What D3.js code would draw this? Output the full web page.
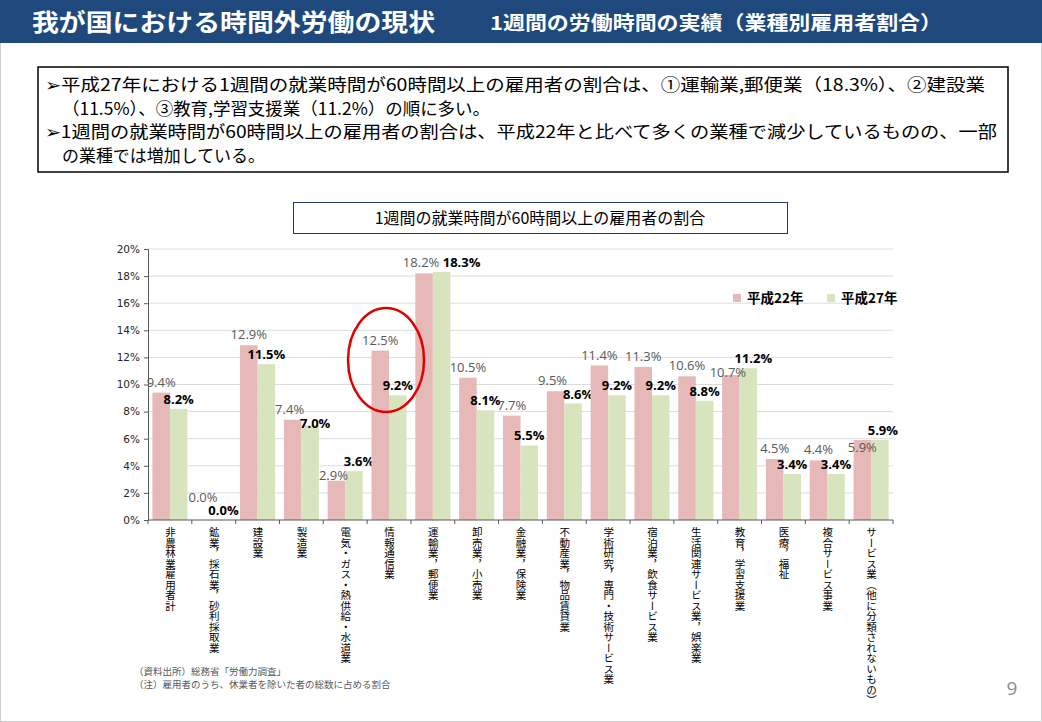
<!DOCTYPE html>
<html>
<head>
<meta charset="utf-8">
<script src="https://cdn.jsdelivr.net/npm/d3@7"></script>
<style>
  body { margin: 0; background: #fff; }
  #chart { position: relative; width: 1042px; height: 722px; }
  svg { display: block; position: absolute; left: 0; top: 0; }
  .jp { font-family: "Noto Sans CJK JP", sans-serif; }
  .catlabel {
    position: absolute;
    writing-mode: vertical-rl;
    font-family: "Noto Sans CJK JP", sans-serif;
    font-size: 10.5px;
    line-height: 12px;
    width: 12px;
    color: #000;
    white-space: nowrap;
  }
</style>
</head>
<body>
<div id="chart"></div>
<script>

// Industries (x axis)
var categories = [
    "非農林業雇用者計",
    "鉱業，採石業，砂利採取業",
    "建設業",
    "製造業",
    "電気・ガス・熱供給・水道業",
    "情報通信業",
    "運輸業，郵便業",
    "卸売業，小売業",
    "金融業，保険業",
    "不動産業，物品賃貸業",
    "学術研究，専門・技術サービス業",
    "宿泊業，飲食サービス業",
    "生活関連サービス業，娯楽業",
    "教育，学習支援業",
    "医療，福祉",
    "複合サービス事業",
    "サービス業（他に分類されないもの）"
];

// Share of employees working 60h+ per week (%)
var seriesNames = ["平成22年", "平成27年"];
var valuesH22 = [9.4, 0.0, 12.9, 7.4, 2.9, 12.5, 18.2, 10.5, 7.7, 9.5, 11.4, 11.3, 10.6, 10.7, 4.5, 4.4, 5.9];
var valuesH27 = [8.2, 0.0, 11.5, 7.0, 3.6, 9.2, 18.3, 8.1, 5.5, 8.6, 9.2, 9.2, 8.8, 11.2, 3.4, 3.4, 5.9];
var yTicks = [0, 2, 4, 6, 8, 10, 12, 14, 16, 18, 20];

var bulletLines = [
    "➢平成27年における1週間の就業時間が60時間以上の雇用者の割合は、①運輸業,郵便業（18.3%）、②建設業",
    "（11.5%）、③教育,学習支援業（11.2%）の順に多い。",
    "➢1週間の就業時間が60時間以上の雇用者の割合は、平成22年と比べて多くの業種で減少しているものの、一部",
    "の業種では増加している。"
];
var notes = [
    "（資料出所）総務省「労働力調査」",
    "（注）雇用者のうち、休業者を除いた者の総数に占める割合"
];

var colors = ["#e6b8b7", "#d7e4bd"];
var width = 1042, height = 722;

var svg = d3.select("#chart")
    .append("svg")
        .attr("width", width)
        .attr("height", height);

// Slide border
svg.append("rect")
    .attr("x", 0.5).attr("y", 0.5)
    .attr("width", width - 1).attr("height", height - 1)
    .attr("fill", "#fff")
    .attr("stroke", "#d0d0d0");

// Header band
svg.append("rect")
    .attr("x", 0).attr("y", 0)
    .attr("width", width).attr("height", 43)
    .attr("fill", "#1f497d");

svg.append("text")
    .attr("class", "jp")
    .attr("x", 32).attr("y", 31)
    .attr("fill", "#fff")
    .attr("font-size", 24)
    .attr("font-weight", "bold")
    .attr("textLength", 403)
    .attr("lengthAdjust", "spacingAndGlyphs")
    .text("我が国における時間外労働の現状");

svg.append("text")
    .attr("class", "jp")
    .attr("x", 490).attr("y", 30)
    .attr("fill", "#fff")
    .attr("font-size", 19)
    .attr("font-weight", "bold")
    .attr("textLength", 452)
    .attr("lengthAdjust", "spacingAndGlyphs")
    .text("1週間の労働時間の実績（業種別雇用者割合）");

// Summary box
svg.append("rect")
    .attr("x", 38).attr("y", 67)
    .attr("width", 970).attr("height", 105)
    .attr("fill", "#fff")
    .attr("stroke", "#000")
    .attr("stroke-width", 1.5);

var lineX = [45, 62, 45, 62];
var lineLen = [940, 428, 952, 203];
svg.selectAll(".bullet")
    .data(bulletLines)
    .enter()
    .append("text")
    .attr("class", "jp bullet")
    .attr("x", function(d, i) { return lineX[i]; })
    .attr("y", function(d, i) { return 91 + i * 23.5; })
    .attr("font-size", 17)
    .attr("fill", "#000")
    .attr("textLength", function(d, i) { return lineLen[i]; })
    .attr("lengthAdjust", "spacingAndGlyphs")
    .text(function(d) { return d; });

// Chart title box
svg.append("rect")
    .attr("x", 293.5).attr("y", 202.5)
    .attr("width", 494).attr("height", 31)
    .attr("fill", "#fff")
    .attr("stroke", "#1f3864")
    .attr("stroke-width", 1);

svg.append("text")
    .attr("class", "jp")
    .attr("x", 540).attr("y", 224)
    .attr("text-anchor", "middle")
    .attr("font-size", 16)
    .attr("fill", "#000")
    .text("1週間の就業時間が60時間以上の雇用者の割合");

// Scales
var plot = { left: 148, right: 893, top: 249, bottom: 520 };

var x0 = d3.scaleBand()
    .domain(categories)
    .range([plot.left, plot.right])
    .padding(0);

var x1 = d3.scaleBand()
    .domain(seriesNames)
    .range([4.4, x0.bandwidth() - 4.4])
    .padding(0);

var y = d3.scaleLinear()
    .domain([0, 20])
    .range([plot.bottom, plot.top]);

// Gridlines
svg.append("g")
    .selectAll("line")
    .data(yTicks.filter(function(d) { return d > 0; }))
    .enter()
    .append("line")
    .attr("x1", plot.left).attr("x2", plot.right)
    .attr("y1", function(d) { return y(d); })
    .attr("y2", function(d) { return y(d); })
    .attr("stroke", "#dcdcdc")
    .attr("stroke-width", 1);

// Y axis
var yAxis = d3.axisLeft(y)
    .tickValues(yTicks)
    .tickSize(4)
    .tickFormat(function(d) { return d + "%"; });

var gy = svg.append("g")
    .attr("transform", "translate(" + plot.left + ",0)")
    .call(yAxis);
gy.select(".domain").attr("stroke", "#595959");
gy.selectAll(".tick line").attr("stroke", "#595959");
gy.selectAll(".tick text")
    .attr("font-family", "DejaVu Sans, sans-serif")
    .attr("font-size", 10.5)
    .attr("fill", "#262626")
    .attr("x", -8);

// Bars
var rows = categories.map(function(c, i) {
    return { cat: c, vals: [valuesH22[i], valuesH27[i]] };
});

var groups = svg.append("g")
    .selectAll("g")
    .data(rows)
    .enter()
    .append("g")
    .attr("transform", function(d) { return "translate(" + x0(d.cat) + ",0)"; });

groups.selectAll("rect")
    .data(function(d) { return d.vals.map(function(v, j) { return { s: seriesNames[j], v: v, j: j }; }); })
    .enter()
    .append("rect")
    .attr("x", function(d) { return x1(d.s); })
    .attr("width", x1.bandwidth())
    .attr("y", function(d) { return y(d.v); })
    .attr("height", function(d) { return y(0) - y(d.v); })
    .attr("fill", function(d) { return colors[d.j]; });

// Value labels: start above each bar, then nudge the pair apart when they collide
function labelSpots(d) {
    var v22 = d.vals[0], v27 = d.vals[1];
    var a = { x: x1(seriesNames[0]) + x1.bandwidth() / 2, y: y(v22) - 6 };
    var b = { x: x1(seriesNames[1]) + x1.bandwidth() / 2, y: y(v27) - 5 };
    var gap = Math.abs(a.y - b.y);
    if (gap < 4) {
        if (v27 > 15) { a.x -= 3; b.x += 20; }
        else if (v27 < 1) { a.y -= 12; a.x -= 2; b.x += 1; }
        else { a.y += 18; b.x += 3; }
    } else if (gap < 14) {
        a.x -= 3; b.x += 5;
        if (a.y > b.y) a.y = b.y + 14;
        else b.y = a.y + 14;
    }
    return [
        { v: v22, j: 0, x: a.x, y: a.y },
        { v: v27, j: 1, x: b.x, y: b.y }
    ];
}

groups.selectAll("text.val")
    .data(labelSpots)
    .enter()
    .append("text")
    .attr("class", "val")
    .attr("x", function(d) { return d.x; })
    .attr("y", function(d) { return d.y; })
    .attr("text-anchor", "middle")
    .attr("font-family", "Open Sans, sans-serif")
    .attr("font-size", 13)
    .attr("font-weight", function(d) { return d.j === 0 ? "normal" : "bold"; })
    .attr("fill", function(d) { return d.j === 0 ? "#595959" : "#000"; })
    .text(function(d) { return d.v.toFixed(1) + "%"; });

// X axis line and ticks between groups
svg.append("line")
    .attr("x1", plot.left).attr("x2", plot.right)
    .attr("y1", plot.bottom).attr("y2", plot.bottom)
    .attr("stroke", "#595959");

svg.append("g")
    .selectAll("line")
    .data(d3.range(categories.length + 1))
    .enter()
    .append("line")
    .attr("x1", function(i) { return plot.left + i * x0.step(); })
    .attr("x2", function(i) { return plot.left + i * x0.step(); })
    .attr("y1", plot.bottom)
    .attr("y2", plot.bottom + 4)
    .attr("stroke", "#595959");

// Vertical category labels (HTML, so CJK vertical forms render properly)
d3.select("#chart")
    .selectAll("div.catlabel")
    .data(categories)
    .enter()
    .append("div")
    .attr("class", "catlabel")
    .style("left", function(d) { return (x0(d) + x0.bandwidth() / 2 - 6) + "px"; })
    .style("top", "527px")
    .text(function(d) { return d; });

// Legend
var legend = svg.append("g")
    .selectAll("g")
    .data(seriesNames)
    .enter()
    .append("g")
    .attr("transform", function(d, i) { return "translate(" + (733 + i * 94) + ",294)"; });

legend.append("rect")
    .attr("width", 8).attr("height", 8)
    .attr("fill", function(d, i) { return colors[i]; });

legend.append("text")
    .attr("class", "jp")
    .attr("x", 14).attr("y", 9)
    .attr("font-size", 13.5)
    .attr("font-weight", "bold")
    .attr("fill", "#000")
    .text(function(d) { return d; });

// Highlight ellipse around 情報通信業
svg.append("ellipse")
    .attr("cx", x0("情報通信業") + x0.bandwidth() / 2 - 3)
    .attr("cy", 360)
    .attr("rx", 38).attr("ry", 52)
    .attr("fill", "none")
    .attr("stroke", "#e00000")
    .attr("stroke-width", 2.5);

// Notes
svg.selectAll(".note")
    .data(notes)
    .enter()
    .append("text")
    .attr("class", "jp note")
    .attr("x", 134)
    .attr("y", function(d, i) { return 675 + i * 13; })
    .attr("font-size", 9.5)
    .attr("fill", "#595959")
    .text(function(d) { return d; });

// Page number
svg.append("text")
    .attr("x", 1012).attr("y", 695)
    .attr("text-anchor", "middle")
    .attr("font-family", "Open Sans, sans-serif")
    .attr("font-size", 19)
    .attr("fill", "#8c8c8c")
    .text("9");

</script>
</body>
</html>
